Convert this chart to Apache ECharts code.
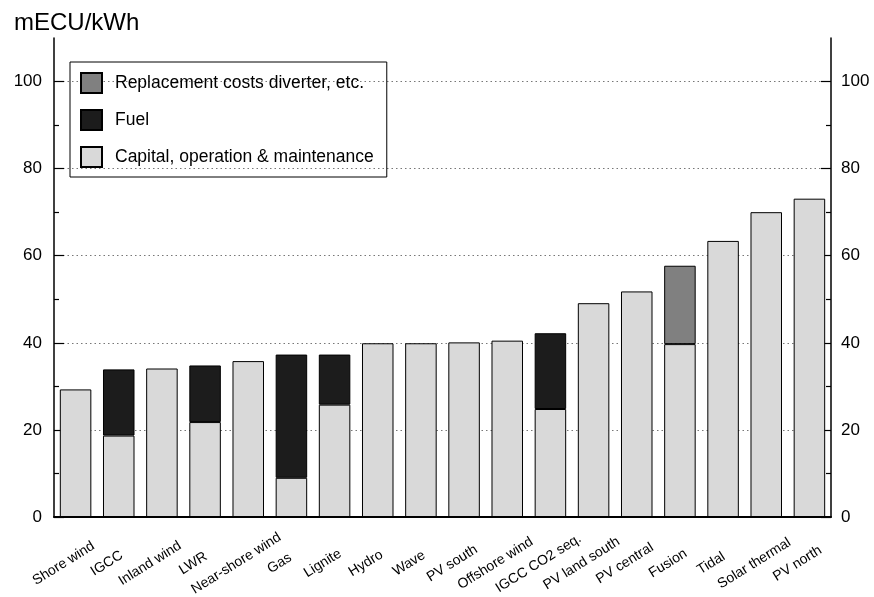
<!DOCTYPE html>
<html>
<head>
<meta charset="utf-8">
<script src="https://cdn.jsdelivr.net/npm/echarts@6/dist/echarts.min.js"></script>
<style>
  html, body { margin: 0; padding: 0; background: #fff; }
  #chart { width: 874px; height: 597px; }
</style>
</head>
<body>
<div id="chart"></div>
<script>
// categories, left to right
var categories = ['Shore wind', 'IGCC', 'Inland wind', 'LWR', 'Near-shore wind', 'Gas', 'Lignite',
  'Hydro', 'Wave', 'PV south', 'Offshore wind', 'IGCC CO2 seq.', 'PV land south', 'PV central',
  'Fusion', 'Tidal', 'Solar thermal', 'PV north'];

// mECU/kWh, stacked bottom -> top
var capital = [29.3, 18.7, 34.1, 21.8, 35.8, 9.0, 25.8, 39.9, 39.9, 40.1, 40.5, 24.8, 49.1, 51.8, 39.7, 63.4, 70.0, 73.1];
var fuel = [null, 15.2, null, 13.0, null, 28.3, 11.5, null, null, null, null, 17.4, null, null, null, null, null, null];
var replacement = [null, null, null, null, null, null, null, null, null, null, null, null, null, null, 18.0, null, null, null];

var majorTicks = [0, 20, 40, 60, 80, 100];
var minorTicks = [10, 30, 50, 70, 90];

var font = 'Liberation Sans, Arial, sans-serif';

var chart = echarts.init(document.getElementById('chart'));

function yAx(pos, major) {
  return {
    type: 'value',
    position: pos,
    min: 0,
    max: 110,
    interval: 20,
    axisLine: { show: major, lineStyle: { color: '#000', width: 1.5 } },
    axisTick: {
      show: true, inside: true, length: major ? 10 : 5,
      customValues: major ? majorTicks : minorTicks,
      lineStyle: { color: '#000', width: 1.2 }
    },
    axisLabel: {
      show: major, customValues: majorTicks,
      color: '#000', fontSize: 17, fontFamily: font, margin: pos === 'left' ? 12 : 10
    },
    splitLine: {
      show: major && pos === 'left',
      lineStyle: { color: '#777', width: 1, type: [1.5, 3] }
    }
  };
}

var barStyle = function (c) {
  return { color: c, borderColor: '#000', borderWidth: 1 };
};

var option = {
  animation: false,
  title: {
    text: 'mECU/kWh', left: 9, top: 6,
    textStyle: { fontSize: 24, fontWeight: 'normal', color: '#000', fontFamily: font }
  },
  legend: {
    orient: 'vertical', left: 70, top: 62,
    padding: [10, 13, 9, 10],
    borderColor: '#000', borderWidth: 1,
    icon: 'rect',
    itemWidth: 21, itemHeight: 20, itemGap: 15,
    data: ['Replacement costs diverter, etc.', 'Fuel', 'Capital, operation & maintenance'],
    textStyle: { fontSize: 17.5, color: '#000', fontFamily: font, padding: [0, 0, 0, 8] }
  },
  grid: { left: 54, right: 43, top: 38, bottom: 80, outerBoundsMode: 'none' },
  xAxis: {
    type: 'category',
    data: categories,
    z: 10,
    axisLine: { lineStyle: { color: '#000', width: 2 } },
    axisTick: { inside: true, alignWithLabel: true, length: 10, lineStyle: { color: '#333', width: 1.5 } },
    axisLabel: {
      interval: 0, rotate: 32, align: 'center', verticalAlign: 'middle',
      margin: 39, padding: [0, 28, 0, 0],
      color: '#000', fontSize: 14, fontFamily: font
    }
  },
  yAxis: [yAx('left', true), yAx('right', true), yAx('left', false), yAx('right', false)],
  series: [
    { name: 'Capital, operation & maintenance', type: 'bar', stack: 'total', data: capital,
      barWidth: '73%', itemStyle: barStyle('#d9d9d9') },
    { name: 'Fuel', type: 'bar', stack: 'total', data: fuel,
      barWidth: '73%', itemStyle: barStyle('#1c1c1c') },
    { name: 'Replacement costs diverter, etc.', type: 'bar', stack: 'total', data: replacement,
      barWidth: '73%', itemStyle: barStyle('#808080') }
  ]
};

chart.setOption(option);
</script>
</body>
</html>
